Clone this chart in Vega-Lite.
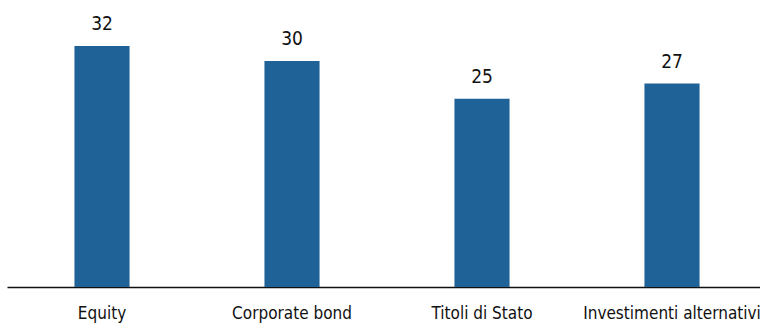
{
  "$schema": "https://vega.github.io/schema/vega-lite/v6.json",
  "width": 760,
  "height": 287,
  "autosize": {"type": "none"},
  "padding": {"left": 7, "top": 0, "right": 0, "bottom": 36},
  "background": "white",
  "view": {"stroke": null},
  "data": {
    "values": [
      {"categoria": "Equity", "valore": 32},
      {"categoria": "Corporate bond", "valore": 30},
      {"categoria": "Titoli di Stato", "valore": 25},
      {"categoria": "Investimenti alternativi", "valore": 27}
    ]
  },
  "encoding": {
    "x": {
      "field": "categoria",
      "type": "nominal",
      "sort": null,
      "scale": {"paddingInner": 0.71, "paddingOuter": 0.355},
      "axis": {
        "title": null,
        "labelAngle": 0,
        "labelFont": "DejaVu Sans Condensed, Liberation Sans, sans-serif",
        "labelFontSize": 17,
        "labelColor": "#111111",
        "labelPadding": 18,
        "labelOverlap": false,
        "labelBound": false,
        "labelLimit": 0,
        "ticks": false,
        "domainColor": "#111111",
        "domainWidth": 1.6
      }
    },
    "y": {
      "field": "valore",
      "type": "quantitative",
      "scale": {"domain": [0, 38.1]},
      "axis": null
    }
  },
  "layer": [
    {"mark": {"type": "bar", "color": "#1f6297"}},
    {
      "mark": {
        "type": "text",
        "baseline": "bottom",
        "dy": -12,
        "font": "DejaVu Sans Condensed, Liberation Sans, sans-serif",
        "fontSize": 19,
        "color": "#111111"
      },
      "encoding": {"text": {"field": "valore", "type": "quantitative"}}
    }
  ]
}
